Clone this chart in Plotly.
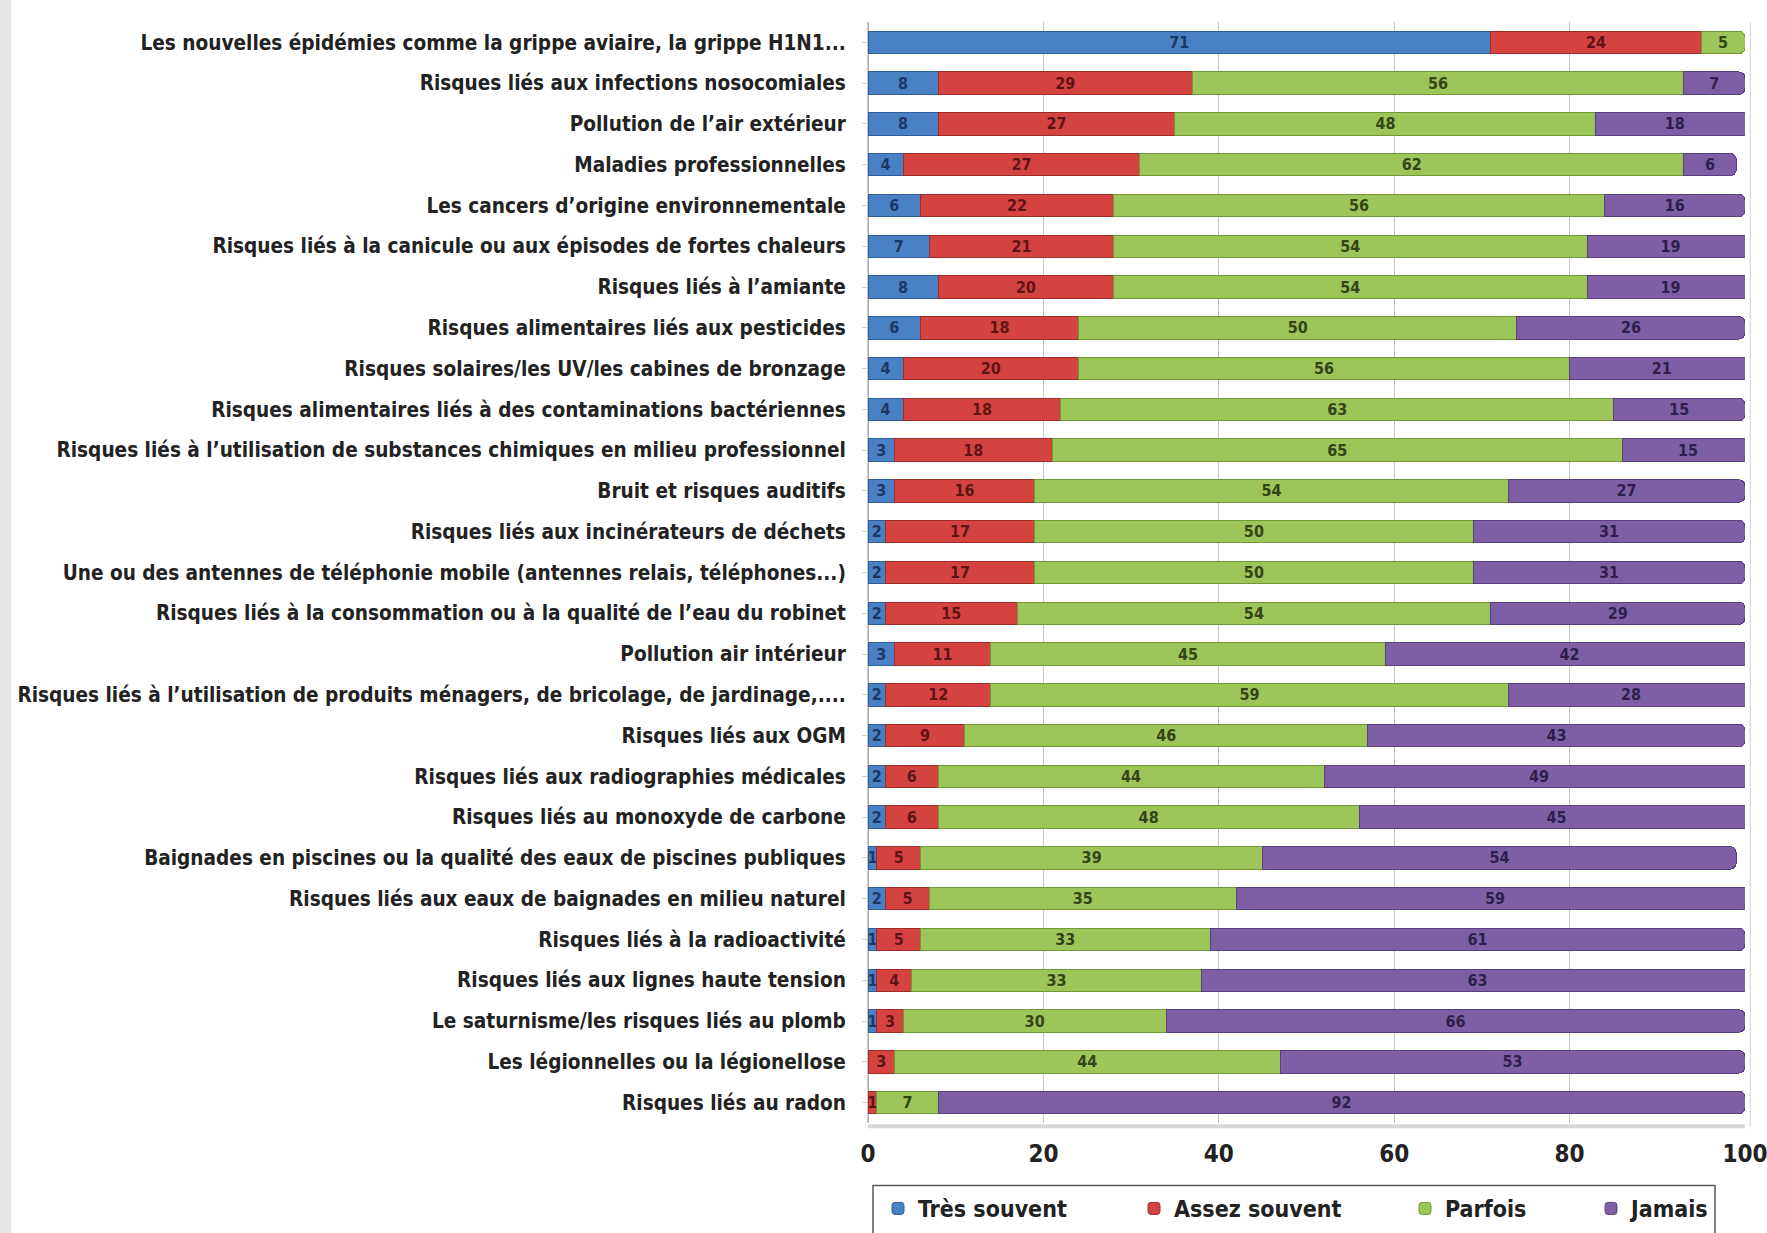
import plotly.graph_objects as go

categories = [
    "Les nouvelles épidémies comme la grippe aviaire, la grippe H1N1...",
    "Risques liés aux infections nosocomiales",
    "Pollution de l’air extérieur",
    "Maladies professionnelles",
    "Les cancers d’origine environnementale",
    "Risques liés à la canicule ou aux épisodes de fortes chaleurs",
    "Risques liés à l’amiante",
    "Risques alimentaires liés aux pesticides",
    "Risques solaires/les UV/les cabines de bronzage",
    "Risques alimentaires liés à des contaminations bactériennes",
    "Risques liés à l’utilisation de substances chimiques en milieu professionnel",
    "Bruit et risques auditifs",
    "Risques liés aux incinérateurs de déchets",
    "Une ou des antennes de téléphonie mobile (antennes relais, téléphones...)",
    "Risques liés à la consommation ou à la qualité de l’eau du robinet",
    "Pollution air intérieur",
    "Risques liés à l’utilisation de produits ménagers, de bricolage, de jardinage,....",
    "Risques liés aux OGM",
    "Risques liés aux radiographies médicales",
    "Risques liés au monoxyde de carbone",
    "Baignades en piscines ou la qualité des eaux de piscines publiques",
    "Risques liés aux eaux de baignades en milieu naturel",
    "Risques liés à la radioactivité",
    "Risques liés aux lignes haute tension",
    "Le saturnisme/les risques liés au plomb",
    "Les légionnelles ou la légionellose",
    "Risques liés au radon",
]

tres_souvent = [71, 8, 8, 4, 6, 7, 8, 6, 4, 4, 3, 3, 2, 2, 2, 3, 2, 2, 2, 2, 1, 2, 1, 1, 1, 0, 0]
assez_souvent = [24, 29, 27, 27, 22, 21, 20, 18, 20, 18, 18, 16, 17, 17, 15, 11, 12, 9, 6, 6, 5, 5, 5, 4, 3, 3, 1]
parfois = [5, 56, 48, 62, 56, 54, 54, 50, 56, 63, 65, 54, 50, 50, 54, 45, 59, 46, 44, 48, 39, 35, 33, 33, 30, 44, 7]
jamais = [0, 7, 18, 6, 16, 19, 19, 26, 21, 15, 15, 27, 31, 31, 29, 42, 28, 43, 49, 45, 54, 59, 61, 63, 66, 53, 92]

series_names = ["Très souvent", "Assez souvent", "Parfois", "Jamais"]
x_ticks = [0, 20, 40, 60, 80, 100]

FONT = "Liberation Sans Narrow, DejaVu Sans Condensed, Arial Narrow, sans-serif"

fill_colors = ["#4a80c4", "#d4433f", "#9cc55a", "#7e5fa6"]
line_colors = ["#2f5f9a", "#a02c29", "#6f9a36", "#5a3f80"]
text_colors = ["#1b3866", "#5e1414", "#334416", "#2e1e4c"]

# plot area in pixels: x 868..1745, y 22..1123.5
PX0, PW = 868, 877
PYB, PH = 1123.5, 1101.5
legend_keys = ["legend", "legend2", "legend3", "legend4"]
legend_left_px = [878, 1134, 1405, 1591]

fig = go.Figure()
for name, vals, fc, lc, tc, lk in zip(series_names, [tres_souvent, assez_souvent, parfois, jamais],
                                      fill_colors, line_colors, text_colors, legend_keys):
    fig.add_trace(go.Bar(
        y=categories, x=vals, name=name, orientation="h",
        marker=dict(color=fc, line=dict(color=lc, width=1)),
        text=[str(v) for v in vals],
        textposition="inside", insidetextanchor="middle", textangle=0,
        textfont=dict(family=FONT, size=16, color=tc, weight="bold"),
        constraintext="none",
        legend=lk, showlegend=True,
    ))

leg_common = dict(
    orientation="h", yanchor="middle", xanchor="left",
    y=(PYB - 1209) / PH,
    bgcolor="rgba(0,0,0,0)", borderwidth=0,
    font=dict(family=FONT, size=23, color="#222222", weight="bold"),
    itemwidth=30, visible=True,
)
legends = {}
for lk, lx in zip(legend_keys, legend_left_px):
    legends[lk] = dict(leg_common, x=(lx - PX0) / PW)

fig.update_layout(
    barmode="stack",
    bargap=0.45,
    barcornerradius=6,
    width=1767, height=1233,
    margin=dict(l=868, r=22, t=22, b=110, autoexpand=False),
    paper_bgcolor="white", plot_bgcolor="white",
    font=dict(family=FONT, size=20.6, color="#222222"),
    uniformtext=dict(mode="show", minsize=16),
    shapes=[
        dict(type="rect", xref="paper", yref="paper", x0=-868/877, x1=-857/877, y0=-1, y1=2,
             fillcolor="#e6e6e6", line=dict(width=0), layer="below"),
        dict(type="line", xref="x", yref="paper", x0=0, x1=100, y0=-0.003, y1=-0.003,
             line=dict(color="#d8d8d8", width=4), layer="below"),
        dict(type="line", xref="paper", yref="paper", x0=1.006, x1=1.006, y0=-0.003, y1=1.0,
             line=dict(color="#d0d0d0", width=1), layer="below"),
        dict(type="rect", xref="paper", yref="paper",
             x0=(873 - PX0) / PW, x1=(1715 - PX0) / PW,
             y0=(PYB - 1240) / PH, y1=(PYB - 1186) / PH,
             fillcolor="rgba(0,0,0,0)", line=dict(color="#555555", width=1.5)),
    ],
    **legends,
)

fig.update_xaxes(
    range=[0, 100], tickvals=x_ticks, ticktext=[str(t) for t in x_ticks],
    showgrid=True, gridcolor="#c4c4c4", gridwidth=1,
    zeroline=True, zerolinecolor="#b0b0b0", zerolinewidth=1,
    showline=False, automargin=False, ticklabeloverflow="allow",
    tickfont=dict(family=FONT, size=24, color="#222222", weight="bold"),
    ticklabelstandoff=14,
)
fig.update_yaxes(
    autorange="reversed", automargin=False,
    ticks="outside", ticklen=5, tickcolor="#e0c8a8",
    tickfont=dict(family=FONT, size=20.6, color="#222222", weight="bold"),
    ticklabelstandoff=12,
    showline=True, linecolor="#c8c8c8", linewidth=1,
)

fig.write_html(
    "out.html",
    config={"displayModeBar": False},
    post_script="document.body.style.margin='0';document.body.style.overflow='hidden';",
)
